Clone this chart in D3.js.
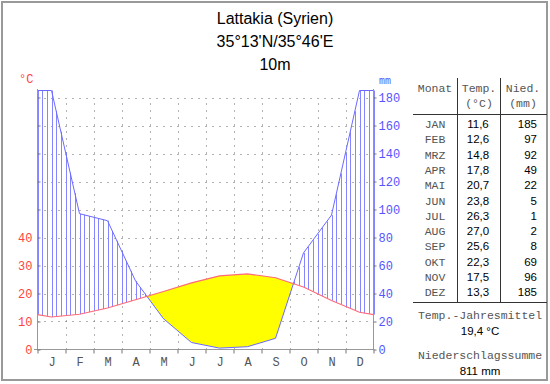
<!DOCTYPE html>
<html>
<head>
<meta charset="utf-8">
<script src="https://cdn.jsdelivr.net/npm/d3@7"></script>
<style>
  body { margin: 0; background: #fff; }
  svg { display: block; }
  .mono { font-family: "Liberation Mono", "DejaVu Sans Mono", monospace; }
  .sans { font-family: "Liberation Sans", Arial, sans-serif; }
</style>
</head>
<body>
<div id="chart"></div>
<script>
// Klimadiagramm Lattakia
const monthNames = ["JAN", "FEB", "MRZ", "APR", "MAI", "JUN", "JUL", "AUG", "SEP", "OKT", "NOV", "DEZ"];
const monthLetters = ["J", "F", "M", "A", "M", "J", "J", "A", "S", "O", "N", "D"];
const temp = [11.6, 12.6, 14.8, 17.8, 20.7, 23.8, 26.3, 27.0, 25.6, 22.3, 17.5, 13.3];
const precip = [185, 97, 92, 49, 22, 5, 1, 2, 8, 69, 96, 185];
const titleLines = ["Lattakia (Syrien)", "35°13'N/35°46'E", "10m"];
const tempTicks = [0, 10, 20, 30, 40];
const precipTicks = [0, 20, 40, 60, 80, 100, 120, 140, 160, 180];
const meanTemp = "19,4 °C";
const sumPrecip = "811 mm";

const W = 550, H = 384;
const plotL = 37.5, plotR = 373.5, plotB = 349.5, plotT = 97.5;

const svg = d3.select('#chart').append('svg')
    .attr('width', W).attr('height', H);

// scales: 10 °C = 20 mm
const x = d3.scaleLinear().domain([0, 12]).range([plotL, plotR]);
const yT = d3.scaleLinear().domain([0, 90]).range([plotB, plotT]);
const yP = d3.scaleLinear().domain([0, 180]).range([plotB, plotT]);

// frame
svg.append('rect').attr('x', 2).attr('y', 2).attr('width', 545).attr('height', 378)
   .attr('fill', 'none').attr('stroke', '#999').attr('stroke-width', 2);

// title
titleLines.forEach((t, i) => {
    svg.append('text').attr('class', 'sans')
       .attr('x', 275).attr('y', 24 + i * 23)
       .attr('text-anchor', 'middle').attr('font-size', 16).attr('fill', '#000')
       .text(t);
});

// curves in month units, wrapping around at the edges
function curve(vals) {
    const pts = [[0, (vals[11] + vals[0]) / 2]];
    vals.forEach((v, i) => pts.push([i + 0.5, v]));
    pts.push([12, (vals[11] + vals[0]) / 2]);
    return pts;
}
const tPts = curve(temp);
const pPts = curve(precip.map(p => p / 2)); // in °C units

function interp(pts, t) {
    for (let i = 0; i < pts.length - 1; i++) {
        const a = pts[i], b = pts[i + 1];
        if (t >= a[0] && t <= b[0]) {
            return a[1] + (b[1] - a[1]) * (t - a[0]) / (b[0] - a[0]);
        }
    }
    return pts[pts.length - 1][1];
}

// grid
const grid = svg.append('g').attr('stroke', '#666').attr('stroke-dasharray', '1,6');
precipTicks.slice(1).forEach(v => {
    grid.append('line').attr('x1', plotL).attr('x2', plotR)
        .attr('y1', Math.round(yP(v)) + 0.5).attr('y2', Math.round(yP(v)) + 0.5);
});
d3.range(1, 12).forEach(m => {
    grid.append('line').attr('x1', Math.round(x(m)) + 0.5).attr('x2', Math.round(x(m)) + 0.5)
        .attr('y1', plotB).attr('y2', plotT);
});

// arid period (yellow), including crossing points
const aridPts = [];
for (let i = 0; i < tPts.length - 1; i++) {
    const a = tPts[i], b = tPts[i + 1];
    const pa = pPts[i][1], pb = pPts[i + 1][1];
    aridPts.push({ t: a[0], T: a[1], P: pa });
    const da = a[1] - pa, db = b[1] - pb;
    if (da * db < 0) {
        const f = da / (da - db);
        const tc = a[0] + f * (b[0] - a[0]);
        const Tc = a[1] + f * (b[1] - a[1]);
        aridPts.push({ t: tc, T: Tc, P: Tc });
    }
}
aridPts.push({ t: 12, T: tPts[13][1], P: pPts[13][1] });

svg.append('path').datum(aridPts)
   .attr('fill', '#ffff00')
   .attr('d', d3.area()
       .x(d => x(d.t))
       .y0(d => yT(d.T))
       .y1(d => yT(Math.min(d.P, d.T))));

// humid period (vertical hatching)
const hatch = svg.append('g').attr('stroke', '#8585ff').attr('stroke-width', 1);
d3.range(0, 73).forEach(k => {
    const t = k / 6;
    const T = interp(tPts, t), P = interp(pPts, t);
    if (P > T) {
        const xx = Math.round(x(t)) + 0.5;
        hatch.append('line').attr('x1', xx).attr('x2', xx)
             .attr('y1', yT(T)).attr('y2', yT(P));
    }
});

// lines
const line = d3.line().x(d => x(d[0])).y(d => yT(d[1]));
svg.append('path').datum(pPts).attr('fill', 'none')
   .attr('stroke', '#6a6aff').attr('stroke-width', 1).attr('d', line);
svg.append('path').datum(tPts).attr('fill', 'none')
   .attr('stroke', '#ff6a78').attr('stroke-width', 1.1).attr('d', line);

// axes lines
const axisCol = '#999';
svg.append('line').attr('x1', plotL).attr('x2', plotL).attr('y1', 89).attr('y2', plotB).attr('stroke', axisCol);
svg.append('line').attr('x1', plotR).attr('x2', plotR).attr('y1', 89).attr('y2', plotB).attr('stroke', axisCol);
svg.append('line').attr('x1', 34).attr('x2', plotR).attr('y1', plotB).attr('y2', plotB).attr('stroke', axisCol);

// left axis (°C)
const gL = svg.append('g').attr('class', 'mono').attr('transform', `translate(${plotL},0)`)
    .call(d3.axisLeft(yT).tickValues(d3.range(0, 100, 10)).tickSize(-3).tickPadding(5)
        .tickFormat(d => tempTicks.includes(d) ? d : ''));
gL.select('.domain').remove();
gL.selectAll('line').attr('stroke', '#777');
gL.selectAll('text').attr('fill', '#ff4444').attr('font-size', 12).attr('font-family', null);

svg.append('text').attr('class', 'mono').attr('x', 19).attr('y', 83)
   .attr('font-size', 12).attr('fill', '#ff4444').text('°C');

// right axis (mm)
const gR = svg.append('g').attr('class', 'mono').attr('transform', `translate(${plotR},0)`)
    .call(d3.axisRight(yP).tickValues(precipTicks).tickSize(3).tickPadding(2));
gR.select('.domain').remove();
gR.selectAll('line').attr('stroke', '#777');
gR.selectAll('text').attr('fill', '#5555ff').attr('font-size', 12).attr('font-family', null);

svg.append('text').attr('class', 'mono').attr('x', 379).attr('y', 84)
   .attr('font-size', 10).attr('fill', '#5555ff').text('mm');

// bottom axis: month boundaries and letters
const gB = svg.append('g').attr('transform', `translate(0,${plotB})`)
    .call(d3.axisBottom(x).tickValues(d3.range(0, 13)).tickSize(4).tickFormat(''));
gB.select('.domain').remove();
gB.selectAll('line').attr('stroke', '#777');
const gB2 = svg.append('g').attr('class', 'mono').attr('transform', `translate(0,${plotB})`)
    .call(d3.axisBottom(x).tickValues(d3.range(0.5, 12, 1)).tickSize(0).tickPadding(8)
        .tickFormat((d, i) => monthLetters[i]));
gB2.select('.domain').remove();
gB2.selectAll('text').attr('fill', '#555').attr('font-size', 12).attr('font-family', null);

// table
const tab = svg.append('g');
const c1 = 435, c2 = 478, c3 = 537;
const lineCol = '#333';
tab.append('line').attr('x1', 457.5).attr('x2', 457.5).attr('y1', 78).attr('y2', 302).attr('stroke', lineCol);
tab.append('line').attr('x1', 500.5).attr('x2', 500.5).attr('y1', 78).attr('y2', 302).attr('stroke', lineCol);
tab.append('line').attr('x1', 413).attr('x2', 547).attr('y1', 114.5).attr('y2', 114.5).attr('stroke', lineCol);
tab.append('line').attr('x1', 413).attr('x2', 547).attr('y1', 302.5).attr('y2', 302.5).attr('stroke', lineCol);

function mono(txt, xx, yy, anchor) {
    tab.append('text').attr('class', 'mono').attr('x', xx).attr('y', yy)
       .attr('text-anchor', anchor || 'middle').attr('font-size', 11.5).attr('fill', '#555').text(txt);
}
function sans(txt, xx, yy, anchor) {
    tab.append('text').attr('class', 'sans').attr('x', xx).attr('y', yy)
       .attr('text-anchor', anchor || 'middle').attr('font-size', 11.5).attr('fill', '#000').text(txt);
}
mono('Monat', c1, 92);
mono('Temp.', 479, 92);
mono('(°C)', 479, 107);
mono('Nied.', 523, 92);
mono('(mm)', 523, 107);

const fmt = v => v.toFixed(1).replace('.', ',');
monthNames.forEach((m, i) => {
    const yy = 128 + i * 15.3;
    mono(m, c1, yy);
    sans(fmt(temp[i]), c2, yy);
    sans(precip[i], c3, yy, 'end');
});

mono('Temp.-Jahresmittel', 480, 319);
sans(meanTemp, 480, 335);
mono('Niederschlagssumme', 480, 359);
sans(sumPrecip, 480, 375);
</script>
</body>
</html>
